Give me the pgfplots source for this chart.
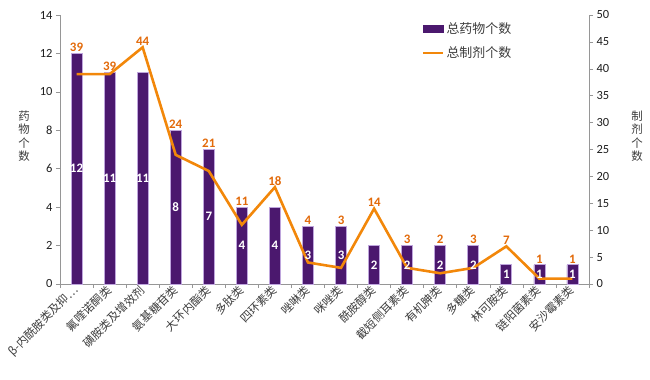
\documentclass[border=0pt]{standalone}
\usepackage{fontspec}
\setmainfont{Carlito}
\newfontfamily\cjk{Noto Sans CJK SC}
\usepackage{pgfplots}
\pgfplotsset{compat=1.18}
\usepackage{pgfplotstable}
\definecolor{barfill}{RGB}{75,24,110}
\definecolor{baredge}{RGB}{190,165,220}
\definecolor{lineor}{RGB}{242,135,10}
\definecolor{labor}{RGB}{226,106,10}
\definecolor{axgray}{RGB}{150,150,150}
\definecolor{txt}{RGB}{30,30,30}
\definecolor{cjktxt}{RGB}{60,60,60}

\pgfplotstableread{
x d f
0 12 39
1 11 39
2 11 44
3 8 24
4 7 21
5 4 11
6 4 18
7 3 4
8 3 3
9 2 14
10 2 3
11 2 2
12 2 3
13 1 7
14 1 1
15 1 1
}\data

\begin{document}
\begin{tikzpicture}
\begin{axis}[
  at={(0,0)}, anchor=south west, scale only axis,
  width=529bp, height=269bp,
  xmin=-0.5, xmax=15.5, ymin=0, ymax=14,
  axis y line*=left, axis x line*=bottom,
  axis line style={axgray, line width=0.6bp, -},
  ytick={0,2,...,14},
  xtick={0,...,15},
  xticklabels={β-内酰胺类及抑…,氟喹诺酮类,磺胺类及增效剂,氨基糖苷类,大环内酯类,多肽类,四环素类,唑啉类,咪唑类,酰胺醇类,截短侧耳素类,有机胂类,多糖类,林可胺类,链阳菌素类,安沙霉素类},
  minor xtick={-0.5,0.5,...,15.5},
  major x tick style={draw=none},
  tick align=outside,
  major tick length=4bp, minor tick length=4bp,
  every tick/.style={axgray, line width=0.6bp},
  /pgf/number format/assume math mode=true,
  tick label style={font=\fontsize{12.5}{13}\selectfont, text=txt},
  xticklabel style={font=\cjk\fontsize{11.5}{12}\selectfont, text=cjktxt, rotate=45, anchor=east, inner sep=0.5bp},
  ylabel={药\\物\\个\\数},
  every axis y label/.style={at={(rel axis cs:0,0.55)}, anchor=center, xshift=-36bp, align=center, font=\cjk\fontsize{11.5}{13.5}\selectfont, text=cjktxt},
  legend style={at={(rel axis cs:0.684,0.98)}, anchor=north west, draw=none, fill=none, font=\cjk\fontsize{13}{14}\selectfont, text=cjktxt, row sep=8bp, inner sep=0pt},
  legend cell align=left,
]
\addplot[ybar, bar width=11bp, fill=barfill, draw=baredge, line width=0.8bp,
  legend image code/.code={\fill[barfill] (0bp,-3.5bp) rectangle (20bp,3.5bp);}]
  table[x=x, y=d]{\data};
\addlegendentry{总药物个数}
\addlegendimage{legend image code/.code={\draw[lineor, line width=2.5bp] (0bp,0bp) -- (20bp,0bp);}}
\addlegendentry{总制剂个数}
\end{axis}
\begin{axis}[
  at={(0,0)}, anchor=south west, scale only axis,
  width=529bp, height=269bp,
  xmin=-0.5, xmax=15.5, ymin=0, ymax=50,
  axis y line*=right, axis x line=none,
  axis line style={axgray, line width=0.6bp, -},
  ytick={0,5,...,50},
  tick align=outside,
  major tick length=4bp,
  every tick/.style={axgray, line width=0.6bp},
  /pgf/number format/assume math mode=true,
  tick label style={font=\fontsize{12.5}{13}\selectfont, text=txt},
  ylabel={制\\剂\\个\\数},
  every axis y label/.style={at={(rel axis cs:1,0.55)}, anchor=center, xshift=48bp, align=center, font=\cjk\fontsize{11.5}{13.5}\selectfont, text=cjktxt},
]
\addplot[lineor, line width=2.6bp, mark=none] table[x=x, y=f]{\data};
% labels inside bars (centred)
\addplot[draw=none, mark=none, nodes near coords, point meta=explicit,
  every node near coord/.append style={font=\bfseries\fontsize{13}{13}\selectfont, text=white, anchor=center, inner sep=0pt}]
  table[x=x, y expr={\thisrow{d}*25/14}, meta=d]{\data};
% labels of the line, above the higher of bar top and line point
\addplot[draw=none, mark=none, nodes near coords, point meta=explicit,
  every node near coord/.append style={font=\bfseries\fontsize{13}{13}\selectfont, text=labor, anchor=south, inner sep=1.5bp}]
  table[x=x, y expr={max(\thisrow{d}*50/14,\thisrow{f})}, meta=f]{\data};
\end{axis}
\pgfresetboundingbox
\path[use as bounding box] (-60bp,-96bp) rectangle (590bp,284bp);
\end{tikzpicture}
\end{document}
